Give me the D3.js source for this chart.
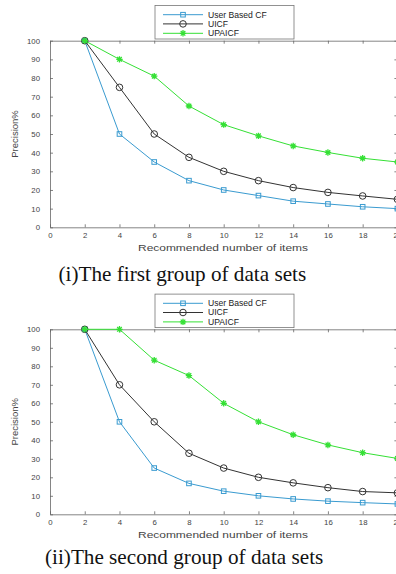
<!DOCTYPE html>
<html>
<head>
<meta charset="utf-8">
<script src="https://cdn.jsdelivr.net/npm/d3@7"></script>
<style>
  body { margin: 0; background: #fff; }
  svg { display: block; }
  .tick text { font-family: "Liberation Sans", Arial, sans-serif; font-size: 7.8px; fill: #444; }
  .domain, .tick line { stroke: #666; stroke-width: 0.8; }
</style>
</head>
<body>
<svg width="396" height="574"></svg>
<script>
// values
var items = [2, 4, 6, 8, 10, 12, 14, 16, 18, 20];
var xTicks = [0, 2, 4, 6, 8, 10, 12, 14, 16, 18, 20];
var yTicks = [0, 10, 20, 30, 40, 50, 60, 70, 80, 90, 100];
var seriesNames = ["User Based CF", "UICF", "UPAICF"];

var userCF1 = [100, 50, 35, 25, 20, 17, 14, 12.5, 11, 10];
var uicf1   = [100, 75, 50, 37.5, 30, 25, 21.3, 18.7, 16.8, 15];
var upaicf1 = [100, 90, 81, 65, 55, 49, 43.6, 40.1, 37, 35];

var userCF2 = [100, 50, 25, 16.7, 12.5, 10, 8.3, 7.1, 6.3, 5.6];
var uicf2   = [100, 70, 50, 33, 25, 20, 17, 14.4, 12.3, 11.6];
var upaicf2 = [100, 100, 83.3, 75, 60, 50, 43, 37.5, 33.3, 30.2];

var captions = ["(i)The first group of data sets", "(ii)The second group of data sets"];

var colors = ["#3a9bd0", "#333333", "#35e035"];
var markers = ["square", "circle", "star"];

var svg = d3.select("svg");

var panels = [
  { top: 40.7, bottom: 227.3, data: [userCF1, uicf1, upaicf1], caption: captions[0], capX: 58.5, capY: 280.5 },
  { top: 329.3, bottom: 514.3, data: [userCF2, uicf2, upaicf2], caption: captions[1], capX: 45, capY: 563.5 }
];

var left = 50, right = 397.4;

panels.forEach(function(p) {
  var x = d3.scaleLinear().domain([0, 20]).range([left, right]);
  var y = d3.scaleLinear().domain([0, 100]).range([p.bottom, p.top]);
  var g = svg.append("g");

  // box axes, ticks pointing inward
  g.append("g").attr("transform", "translate(0," + p.bottom + ")")
    .call(d3.axisBottom(x).tickValues(xTicks).tickSize(-3).tickSizeOuter(0).tickPadding(5.5));
  g.append("g").attr("transform", "translate(" + left + ",0)")
    .call(d3.axisLeft(y).tickValues(yTicks).tickSize(-3).tickSizeOuter(0).tickPadding(10));
  g.append("g").attr("transform", "translate(0," + p.top + ")")
    .call(d3.axisTop(x).tickValues(xTicks).tickSize(-3).tickSizeOuter(0).tickFormat(""));
  g.append("g").attr("transform", "translate(" + right + ",0)")
    .call(d3.axisRight(y).tickValues(yTicks).tickSize(-3).tickSizeOuter(0).tickFormat(""));

  g.append("text")
    .attr("x", 223).attr("y", p.bottom + 23.5)
    .attr("text-anchor", "middle")
    .attr("textLength", 170).attr("lengthAdjust", "spacingAndGlyphs")
    .style("font-family", "Liberation Sans, Arial, sans-serif")
    .style("font-size", "9px").style("fill", "#444")
    .text("Recommended number of items");

  g.append("text")
    .attr("transform", "translate(17.5," + (p.top + p.bottom) / 2 + ") rotate(-90)")
    .attr("text-anchor", "middle")
    .style("font-family", "Liberation Sans, Arial, sans-serif")
    .style("font-size", "9.5px").style("fill", "#444")
    .text("Precision%");

  var line = d3.line()
    .x(function(d, i) { return x(items[i]); })
    .y(function(d) { return y(d); });

  p.data.forEach(function(vals, s) {
    g.append("path")
      .attr("d", line(vals))
      .attr("fill", "none")
      .attr("stroke", colors[s])
      .attr("stroke-width", 1);
    vals.forEach(function(v, i) {
      drawMarker(g, markers[s], x(items[i]), y(v), colors[s]);
    });
  });

  // legend
  var lg = g.append("g").attr("transform", "translate(155," + (p.top - 35.2) + ")");
  lg.append("rect").attr("width", 139).attr("height", 33.5)
    .attr("fill", "#fff").attr("stroke", "#777").attr("stroke-width", 0.8);
  var rowY = [9.2, 18.4, 27.8];
  seriesNames.forEach(function(name, s) {
    lg.append("line").attr("x1", 8).attr("x2", 48).attr("y1", rowY[s]).attr("y2", rowY[s])
      .attr("stroke", colors[s]).attr("stroke-width", 1);
    drawMarker(lg, markers[s], 28, rowY[s], colors[s]);
    lg.append("text").attr("x", 53).attr("y", rowY[s] + 3)
      .style("font-family", "Liberation Sans, Arial, sans-serif")
      .style("font-size", "8.6px").style("fill", "#222")
      .text(name);
  });

  svg.append("text")
    .attr("x", p.capX).attr("y", p.capY)
    .style("font-family", "Liberation Serif, 'Times New Roman', serif")
    .style("font-size", "21.2px").style("fill", "#111")
    .text(p.caption);
});

function drawMarker(g, type, cx, cy, c) {
  if (type === "square") {
    g.append("rect").attr("x", cx - 2.3).attr("y", cy - 2.3).attr("width", 4.6).attr("height", 4.6)
      .attr("fill", "none").attr("stroke", c).attr("stroke-width", 1);
  } else if (type === "circle") {
    g.append("circle").attr("cx", cx).attr("cy", cy).attr("r", 3.3)
      .attr("fill", "none").attr("stroke", c).attr("stroke-width", 1);
  } else {
    var r = 3.2, d = r * 0.72;
    g.append("path")
      .attr("d", "M" + (cx - r) + "," + cy + "H" + (cx + r) + "M" + cx + "," + (cy - r) + "V" + (cy + r) +
        "M" + (cx - d) + "," + (cy - d) + "L" + (cx + d) + "," + (cy + d) +
        "M" + (cx - d) + "," + (cy + d) + "L" + (cx + d) + "," + (cy - d))
      .attr("stroke", c).attr("stroke-width", 1.3);
  }
}
</script>
</body>
</html>
